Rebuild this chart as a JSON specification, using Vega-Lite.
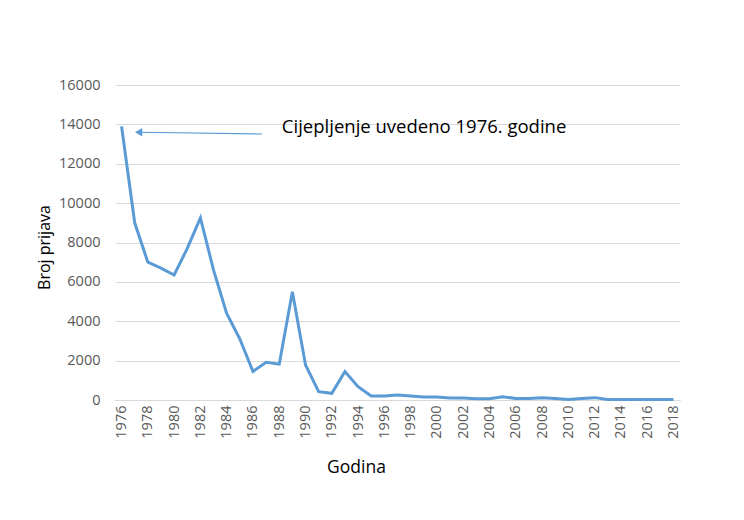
{
  "$schema": "https://vega.github.io/schema/vega-lite/v6.json",
  "width": 565,
  "height": 315,
  "autosize": {"type": "none"},
  "padding": {"left": 115, "top": 85, "right": 64, "bottom": 120},
  "background": "white",
  "config": {"view": {"stroke": null}, "font": "Open Sans", "axis": {"labelOverlap": false}},
  "datasets": {
    "cases": [
      {"year": 1976, "cases": 13900}, {"year": 1977, "cases": 9000}, {"year": 1978, "cases": 7000},
      {"year": 1979, "cases": 6700}, {"year": 1980, "cases": 6350}, {"year": 1981, "cases": 7700},
      {"year": 1982, "cases": 9250}, {"year": 1983, "cases": 6600}, {"year": 1984, "cases": 4400},
      {"year": 1985, "cases": 3100}, {"year": 1986, "cases": 1450}, {"year": 1987, "cases": 1920},
      {"year": 1988, "cases": 1820}, {"year": 1989, "cases": 5500}, {"year": 1990, "cases": 1780},
      {"year": 1991, "cases": 420}, {"year": 1992, "cases": 340}, {"year": 1993, "cases": 1450},
      {"year": 1994, "cases": 680}, {"year": 1995, "cases": 200}, {"year": 1996, "cases": 200},
      {"year": 1997, "cases": 250}, {"year": 1998, "cases": 200}, {"year": 1999, "cases": 150},
      {"year": 2000, "cases": 150}, {"year": 2001, "cases": 100}, {"year": 2002, "cases": 100},
      {"year": 2003, "cases": 60}, {"year": 2004, "cases": 60}, {"year": 2005, "cases": 170},
      {"year": 2006, "cases": 80}, {"year": 2007, "cases": 80}, {"year": 2008, "cases": 120},
      {"year": 2009, "cases": 80}, {"year": 2010, "cases": 30}, {"year": 2011, "cases": 80},
      {"year": 2012, "cases": 120}, {"year": 2013, "cases": 30}, {"year": 2014, "cases": 30},
      {"year": 2015, "cases": 30}, {"year": 2016, "cases": 25}, {"year": 2017, "cases": 25},
      {"year": 2018, "cases": 20}
    ],
    "arrow": [{"year": 1986.7, "year2": 1977.3, "cases": 13510, "cases2": 13600}],
    "head": [{"year": 1977.3, "cases": 13600}],
    "label": [{"year": 1988.2, "cases": 13870, "text": "Cijepljenje uvedeno 1976. godine"}]
  },
  "encoding": {
    "x": {
      "field": "year", "type": "quantitative",
      "scale": {"domain": [1975.5, 2018.5], "nice": false, "zero": false},
      "axis": {
        "title": "Godina", "titleFont": "Open Sans", "titleFontSize": 17.5, "titleFontWeight": "normal",
        "titleColor": "#000000", "titleX": 241, "titleY": 67, "titleBaseline": "middle",
        "values": [1976, 1978, 1980, 1982, 1984, 1986, 1988, 1990, 1992, 1994, 1996, 1998, 2000, 2002, 2004, 2006, 2008, 2010, 2012, 2014, 2016, 2018],
        "format": "d", "labelAngle": 270, "labelAlign": "right", "labelBaseline": "middle",
        "labelFontSize": 14.5, "labelColor": "#595959", "labelPadding": 5,
        "ticks": false, "grid": false, "domainColor": "#d9d9d9", "labelFlush": false, "labelOverlap": false
      }
    },
    "y": {
      "field": "cases", "type": "quantitative",
      "scale": {"domain": [0, 16000], "nice": false},
      "axis": {
        "title": "Broj prijava", "titleFont": "Open Sans", "titleFontSize": 16, "titleFontWeight": "normal",
        "titleColor": "#000000", "titleX": -71, "titleY": 162, "titleBaseline": "middle",
        "values": [0, 2000, 4000, 6000, 8000, 10000, 12000, 14000, 16000],
        "format": "d", "labelFontSize": 14.5, "labelColor": "#595959", "labelPadding": 15, "labelOverlap": false,
        "ticks": false, "domain": false, "gridColor": "#d9d9d9", "gridWidth": 1
      }
    }
  },
  "layer": [
    {
      "data": {"name": "cases"},
      "mark": {"type": "line", "color": "#5b9bd5", "strokeWidth": 3, "strokeJoin": "miter"}
    },
    {
      "data": {"name": "arrow"},
      "mark": {"type": "rule", "color": "#5b9bd5", "strokeWidth": 1.2},
      "encoding": {
        "x2": {"field": "year2"},
        "y2": {"field": "cases2"}
      }
    },
    {
      "data": {"name": "head"},
      "mark": {"type": "point", "shape": "triangle-left", "filled": true, "color": "#5b9bd5", "size": 70, "opacity": 1}
    },
    {
      "data": {"name": "label"},
      "mark": {"type": "text", "align": "left", "baseline": "middle", "fontSize": 18.5, "font": "Open Sans", "color": "#000000"},
      "encoding": {
        "text": {"field": "text"}
      }
    }
  ]
}
